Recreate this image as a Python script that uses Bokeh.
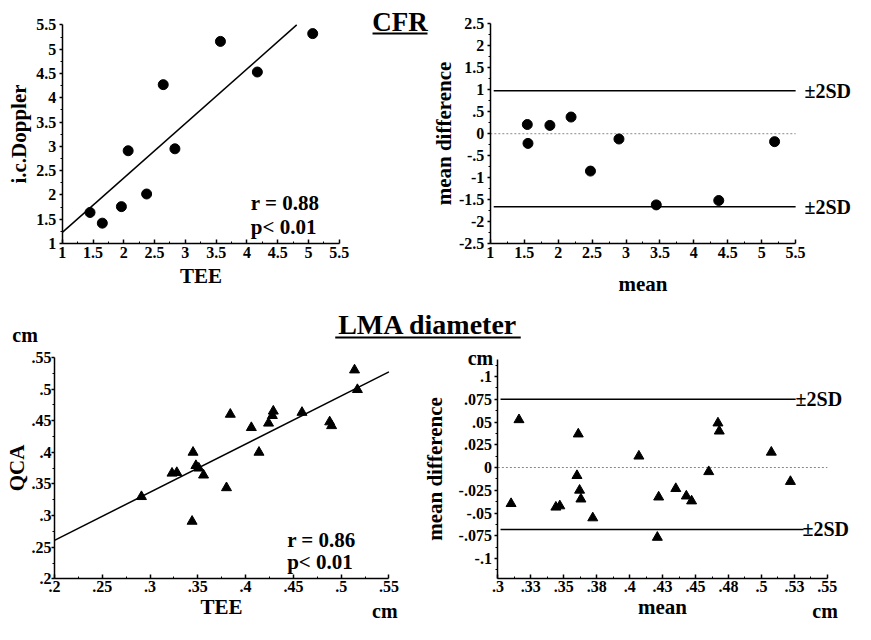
from bokeh.plotting import figure
from bokeh.layouts import column, row
from bokeh.models import Range1d, FixedTicker, Label
from bokeh.embed import file_html
from bokeh.resources import INLINE

FONT = "Liberation Serif"

# ---------------- CFR data ----------------
cfr_tee = [1.45, 1.65, 1.96, 2.07, 2.37, 2.64, 2.83, 3.57, 4.17, 5.07]
cfr_doppler = [1.64, 1.42, 1.76, 2.91, 2.02, 4.27, 2.95, 5.16, 4.53, 5.32]
cfr_fit_x = [1.0, 4.81]
cfr_fit_y = [1.23, 5.5]

cfr_mean = [1.545, 1.555, 1.878, 2.19, 2.476, 2.896, 3.446, 4.367, 5.19]
cfr_diff = [0.21, -0.22, 0.19, 0.38, -0.85, -0.12, -1.62, -1.52, -0.18]
cfr_sd_upper = 0.98
cfr_sd_lower = -1.66
cfr_sd_x = [1.05, 5.5]
cfr_zero_x = [1.0, 5.5]

cfr_ticks = [1, 1.5, 2, 2.5, 3, 3.5, 4, 4.5, 5, 5.5]
cfr_tick_labels = ["1", "1.5", "2", "2.5", "3", "3.5", "4", "4.5", "5", "5.5"]
cfr_minor = [1.25, 1.75, 2.25, 2.75, 3.25, 3.75, 4.25, 4.75, 5.25]
cfr_ba_yticks = [-2.5, -2, -1.5, -1, -0.5, 0, 0.5, 1, 1.5, 2, 2.5]
cfr_ba_ylabels = ["-2.5", "-2", "-1.5", "-1", "-.5", "0", ".5", "1", "1.5", "2", "2.5"]
cfr_ba_yminor = [-2.25, -1.75, -1.25, -0.75, -0.25, 0.25, 0.75, 1.25, 1.75, 2.25]

# ---------------- LMA data ----------------
lma_tee = [0.291, 0.323, 0.328, 0.345, 0.344, 0.348, 0.351, 0.356, 0.380, 0.384,
           0.406, 0.414, 0.424, 0.428, 0.429, 0.459, 0.488, 0.490, 0.514, 0.517]
lma_qca = [0.330, 0.367, 0.368, 0.400, 0.291, 0.379, 0.375, 0.364, 0.344, 0.460,
           0.439, 0.400, 0.446, 0.458, 0.465, 0.463, 0.448, 0.442, 0.530, 0.499]
lma_fit_x = [0.2, 0.55]
lma_fit_y = [0.261, 0.527]

lma_mean = [0.310, 0.316, 0.344, 0.347, 0.361, 0.360, 0.362, 0.363, 0.372, 0.407,
            0.422, 0.421, 0.435, 0.443, 0.447, 0.460, 0.467, 0.468, 0.5075, 0.522]
lma_diff = [-0.0397, 0.0525, -0.0436, -0.0422, 0.0368, -0.0089, -0.025, -0.0347, -0.0554, 0.0125,
            -0.0325, -0.0768, -0.0232, -0.0314, -0.0368, -0.0046, 0.0489, 0.040, 0.0168, -0.0154]
lma_sd_upper = 0.075
lma_sd_lower = -0.068
lma_sd_upper_x = [0.302, 0.526]
lma_sd_lower_x = [0.302, 0.532]
lma_zero_x = [0.3, 0.55]

lma_xticks = [0.2, 0.25, 0.3, 0.35, 0.4, 0.45, 0.5, 0.55]
lma_xlabels = [".2", ".25", ".3", ".35", ".4", ".45", ".5", ".55"]
lma_xminor = [0.225, 0.275, 0.325, 0.375, 0.425, 0.475, 0.525]
lma_ba_xticks = [0.3, 0.325, 0.35, 0.375, 0.4, 0.425, 0.45, 0.475, 0.5, 0.525, 0.55]
lma_ba_xlabels = [".3", ".33", ".35", ".38", ".4", ".43", ".45", ".48", ".5", ".53", ".55"]
lma_ba_xminor = [0.3125, 0.3375, 0.3625, 0.3875, 0.4125, 0.4375, 0.4625, 0.4875, 0.5125, 0.5375]
lma_ba_yticks = [-0.1, -0.075, -0.05, -0.025, 0, 0.025, 0.05, 0.075, 0.1]
lma_ba_ylabels = ["-.1", "-.075", "-.05", "-.025", "0", ".025", ".05", ".075", ".1"]
lma_ba_yminor = [-0.1125, -0.0875, -0.0625, -0.0375, -0.0125, 0.0125, 0.0375, 0.0625, 0.0875, 0.1125]
lma_ba_ybounds = (-0.1225, 0.1186)

# layout: reference pixel positions are scaled into the 855 x 624 content box
SX = 855 / 871
SY = 624 / 640


def make_fig(fig_x, fig_y, w, h, xa, xb, rxa, rxb, ya, yb, rya, ryb):
    """Figure whose frame fills its canvas; data xa/xb sit at reference pixels rxa/rxb,
    data ya/yb at reference pixels rya/ryb."""
    pxa, pxb = rxa * SX - fig_x, rxb * SX - fig_x
    pya, pyb = rya * SY - fig_y, ryb * SY - fig_y
    kx = (pxb - pxa) / (xb - xa)
    x0 = xa - pxa / kx
    ky = (pya - pyb) / (yb - ya)
    y0 = ya - (h - pya) / ky
    p = figure(width=w, height=h, x_range=Range1d(x0, x0 + w / kx),
               y_range=Range1d(y0, y0 + h / ky), output_backend="svg",
               toolbar_location=None, min_border=0)
    p.outline_line_color = None
    p.xgrid.visible = False
    p.ygrid.visible = False

    def to_data(rx, ry):
        return x0 + (rx * SX - fig_x) / kx, y0 + (h - (ry * SY - fig_y)) / ky
    return p, to_data


def style_axis(ax, ticks, labels, minor, label, is_x, bounds, loc, label_standoff, tick_standoff=3):
    ax.fixed_location = loc
    ax.bounds = bounds
    ax.ticker = FixedTicker(ticks=ticks, minor_ticks=minor)
    ax.major_label_overrides = {t: l for t, l in zip(ticks, labels)}
    ax.axis_label = label
    ax.axis_label_text_font = FONT
    ax.axis_label_text_font_style = "bold"
    ax.axis_label_text_font_size = "21px"
    ax.axis_label_text_color = "black"
    ax.major_label_text_font = FONT
    ax.major_label_text_font_style = "bold"
    ax.major_label_text_font_size = "16px"
    ax.major_label_text_color = "black"
    ax.axis_line_width = 1.5
    ax.axis_line_color = "black"
    ax.major_tick_line_width = 1.5
    ax.minor_tick_line_width = 1
    ax.major_tick_line_color = "black"
    ax.minor_tick_line_color = "black"
    if is_x:
        ax.major_tick_in, ax.major_tick_out = 4, 0
        ax.minor_tick_in, ax.minor_tick_out = 2, 0
    else:
        ax.major_tick_in, ax.major_tick_out = 0, 3
        ax.minor_tick_in, ax.minor_tick_out = 0, 2
    ax.major_label_standoff = tick_standoff
    ax.axis_label_standoff = label_standoff


def add_text(p, to_data, rx, ry_base, text, size=21, align="left"):
    # ry_base: reference pixel row of the text baseline; text is centred on its box
    x, y = to_data(rx, ry_base - 0.34 * size)
    p.add_layout(Label(x=x, y=y, text=text, text_font=FONT, text_font_style="bold",
                       text_font_size=f"{size}px", text_align=align, text_baseline="middle",
                       text_color="black"))


def add_rule(p, to_data, rx0, rx1, ry):
    x0, y0 = to_data(rx0, ry)
    x1, y1 = to_data(rx1, ry)
    p.segment(x0=[x0], y0=[y0], x1=[x1], y1=[y1], line_color="black", line_width=2)


# ---------------- Panel 1: CFR scatter ----------------
p1, d1 = make_fig(0, 0, 430, 298, 1, 5.5, 63, 345, 1, 5.5, 249.3, 25)
style_axis(p1.xaxis[0], cfr_ticks, cfr_tick_labels, cfr_minor, "TEE", True, (1, 5.5), 1, 3)
style_axis(p1.yaxis[0], cfr_ticks, cfr_tick_labels, cfr_minor, "i.c.Doppler", False, (1, 5.5), 1, 3)
p1.line(cfr_fit_x, cfr_fit_y, line_color="black", line_width=1.5)
p1.scatter(cfr_tee, cfr_doppler, marker="circle", size=10, color="black")
add_text(p1, d1, 255, 215, "r = 0.88")
add_text(p1, d1, 255, 239, "p< 0.01")
add_text(p1, d1, 407, 31.7, "CFR", size=27, align="center")
add_rule(p1, d1, 379, 435, 33.8)

# ---------------- Panel 2: CFR Bland-Altman ----------------
p2, d2 = make_fig(430, 0, 425, 298, 1, 5.5, 499, 810, -2.5, 2.5, 249.3, 24)
style_axis(p2.xaxis[0], cfr_ticks, cfr_tick_labels, cfr_minor, "mean", True, (1, 5.5), -2.5, 11)
style_axis(p2.yaxis[0], cfr_ba_yticks, cfr_ba_ylabels, cfr_ba_yminor, "mean difference", False,
           (-2.5, 2.5), 1, 0)
p2.line(cfr_zero_x, [0, 0], line_color="#888888", line_width=1, line_dash="2 2")
p2.line(cfr_sd_x, [cfr_sd_upper] * 2, line_color="black", line_width=1.5)
p2.line(cfr_sd_x, [cfr_sd_lower] * 2, line_color="black", line_width=1.5)
p2.scatter(cfr_mean, cfr_diff, marker="circle", size=10, color="black")
for sd in (cfr_sd_upper, cfr_sd_lower):
    p2.add_layout(Label(x=d2(819, 0)[0], y=sd, text="\u00b12SD", text_font=FONT,
                        text_font_style="bold", text_font_size="20px", text_baseline="middle",
                        text_color="black"))

# ---------------- Middle title strip ----------------
pm, dm = make_fig(0, 298, 855, 50, 0, 1, 0, 1, 0, 1, 1, 0)
pm.axis.visible = False
add_text(pm, dm, 435.5, 342, "LMA diameter", size=28, align="center")
add_rule(pm, dm, 341, 530, 345.7)
add_text(pm, dm, 12, 350, "cm", size=20)

# ---------------- Panel 3: LMA scatter ----------------
p3, d3 = make_fig(0, 348, 420, 276, 0.2, 0.55, 55, 395.7, 0.2, 0.55, 593.3, 366)
style_axis(p3.xaxis[0], lma_xticks, lma_xlabels, lma_xminor, "TEE", True, (0.2, 0.55), 0.2, 0, 2)
style_axis(p3.yaxis[0], lma_xticks, lma_xlabels, lma_xminor, "QCA", False, (0.2, 0.55), 0.2, 0, 0)
p3.line(lma_fit_x, lma_fit_y, line_color="black", line_width=1.5)
p3.scatter(lma_tee, lma_qca, marker="triangle", size=10, color="black")
add_text(p3, d3, 292, 560, "r = 0.86")
add_text(p3, d3, 292, 582.7, "p< 0.01")
add_text(p3, d3, 391.5, 633, "cm", size=20, align="center")

# ---------------- Panel 4: LMA Bland-Altman ----------------
p4, d4 = make_fig(420, 348, 435, 276, 0.3, 0.55, 506.7, 842.3, 0, 0.1, 479, 385.7)
style_axis(p4.xaxis[0], lma_ba_xticks, lma_ba_xlabels, lma_ba_xminor, "mean", True, (0.3, 0.55),
           lma_ba_ybounds[0], 0, 2)
style_axis(p4.yaxis[0], lma_ba_yticks, lma_ba_ylabels, lma_ba_yminor, "mean difference", False,
           lma_ba_ybounds, 0.3, 8)
p4.line(lma_zero_x, [0, 0], line_color="#888888", line_width=1, line_dash="2 2")
p4.line(lma_sd_upper_x, [lma_sd_upper] * 2, line_color="black", line_width=1.5)
p4.line(lma_sd_lower_x, [lma_sd_lower] * 2, line_color="black", line_width=1.5)
p4.scatter(lma_mean, lma_diff, marker="triangle", size=10, color="black")
for rx, sd in ((810, lma_sd_upper), (817, lma_sd_lower)):
    p4.add_layout(Label(x=d4(rx, 0)[0], y=sd, text="\u00b12SD", text_font=FONT,
                        text_font_style="bold", text_font_size="20px", text_baseline="middle",
                        text_color="black"))
add_text(p4, d4, 502, 373, "cm", size=20, align="right")
add_text(p4, d4, 840, 633, "cm", size=20, align="center")

layout = column(row(p1, p2), pm, row(p3, p4))
open("out.html", "w").write(file_html(layout, INLINE))
